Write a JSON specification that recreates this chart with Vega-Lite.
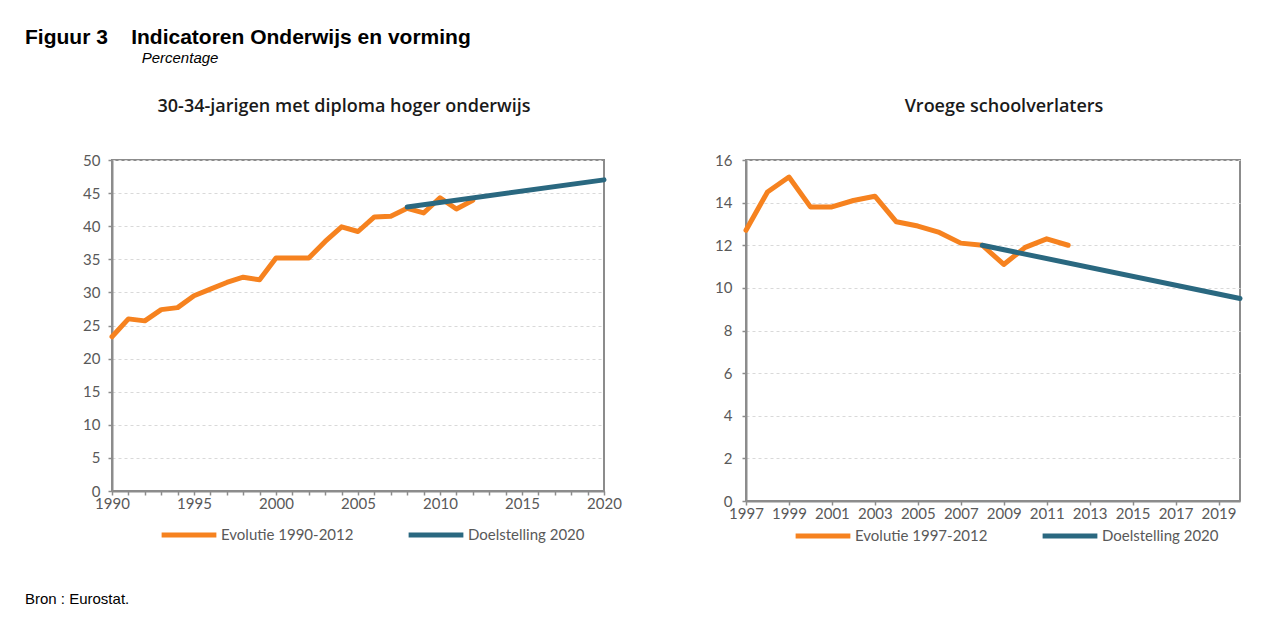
{
  "$schema": "https://vega.github.io/schema/vega-lite/v6.json",
  "padding": {"left": 24, "top": 27, "right": 0, "bottom": 0},
  "background": "white",
  "title": {
    "text": "Figuur 3\u00a0\u00a0\u00a0\u00a0Indicatoren Onderwijs en vorming",
    "subtitle": "\u200b\u00a0\u00a0\u00a0\u00a0\u00a0\u00a0\u00a0\u00a0\u00a0\u00a0\u00a0\u00a0\u00a0\u00a0\u00a0\u00a0\u00a0\u00a0\u00a0\u00a0\u00a0\u00a0\u00a0\u00a0\u00a0\u00a0\u00a0\u00a0Percentage",
    "anchor": "start",
    "frame": "group",
    "dx": -87,
    "font": "Liberation Sans",
    "fontSize": 21,
    "fontWeight": "bold",
    "color": "#000000",
    "subtitleFont": "Liberation Sans",
    "subtitleFontSize": 15,
    "subtitleFontStyle": "italic",
    "subtitleColor": "#000000",
    "subtitlePadding": 3,
    "offset": 31
  },
  "vconcat": [
    {
      "title": {
        "text": "Bron : Eurostat.",
        "orient": "bottom",
        "anchor": "start",
        "frame": "group",
        "dx": -87,
        "font": "Liberation Sans",
        "fontSize": 15,
        "fontWeight": "normal",
        "color": "#000000",
        "offset": 45
      },
      "spacing": 20,
      "resolve": {"scale": {"color": "independent", "x": "independent", "y": "independent"}, "legend": {"color": "independent"}},
      "hconcat": [
        {
          "width": 492,
          "height": 331,
          "title": {"text": "30-34-jarigen met diploma hoger onderwijs", "anchor": "middle", "dx": -14, "offset": 37},
          "data": {"values": [
            {"jaar": 1990, "waarde": 23.3, "reeks": "Evolutie 1990-2012"},
            {"jaar": 1991, "waarde": 26.0, "reeks": "Evolutie 1990-2012"},
            {"jaar": 1992, "waarde": 25.7, "reeks": "Evolutie 1990-2012"},
            {"jaar": 1993, "waarde": 27.4, "reeks": "Evolutie 1990-2012"},
            {"jaar": 1994, "waarde": 27.7, "reeks": "Evolutie 1990-2012"},
            {"jaar": 1995, "waarde": 29.5, "reeks": "Evolutie 1990-2012"},
            {"jaar": 1996, "waarde": 30.5, "reeks": "Evolutie 1990-2012"},
            {"jaar": 1997, "waarde": 31.5, "reeks": "Evolutie 1990-2012"},
            {"jaar": 1998, "waarde": 32.3, "reeks": "Evolutie 1990-2012"},
            {"jaar": 1999, "waarde": 31.9, "reeks": "Evolutie 1990-2012"},
            {"jaar": 2000, "waarde": 35.2, "reeks": "Evolutie 1990-2012"},
            {"jaar": 2001, "waarde": 35.2, "reeks": "Evolutie 1990-2012"},
            {"jaar": 2002, "waarde": 35.2, "reeks": "Evolutie 1990-2012"},
            {"jaar": 2003, "waarde": 37.7, "reeks": "Evolutie 1990-2012"},
            {"jaar": 2004, "waarde": 39.9, "reeks": "Evolutie 1990-2012"},
            {"jaar": 2005, "waarde": 39.2, "reeks": "Evolutie 1990-2012"},
            {"jaar": 2006, "waarde": 41.4, "reeks": "Evolutie 1990-2012"},
            {"jaar": 2007, "waarde": 41.5, "reeks": "Evolutie 1990-2012"},
            {"jaar": 2008, "waarde": 42.7, "reeks": "Evolutie 1990-2012"},
            {"jaar": 2009, "waarde": 42.0, "reeks": "Evolutie 1990-2012"},
            {"jaar": 2010, "waarde": 44.3, "reeks": "Evolutie 1990-2012"},
            {"jaar": 2011, "waarde": 42.6, "reeks": "Evolutie 1990-2012"},
            {"jaar": 2012, "waarde": 43.9, "reeks": "Evolutie 1990-2012"},
            {"jaar": 2008, "waarde": 42.9, "reeks": "Doelstelling 2020"},
            {"jaar": 2020, "waarde": 47.0, "reeks": "Doelstelling 2020"}
          ]},
          "mark": {"type": "line", "strokeWidth": 5, "strokeCap": "round", "strokeJoin": "round"},
          "encoding": {
            "x": {
              "field": "jaar", "type": "quantitative",
              "scale": {"domain": [1990, 2020], "nice": false, "zero": false},
              "axis": {
                "values": [1990,1991,1992,1993,1994,1995,1996,1997,1998,1999,2000,2001,2002,2003,2004,2005,2006,2007,2008,2009,2010,2011,2012,2013,2014,2015,2016,2017,2018,2019,2020],
                "labelExpr": "datum.value % 5 === 0 ? datum.label : ''",
                "format": "d", "grid": false
              }
            },
            "y": {
              "field": "waarde", "type": "quantitative",
              "scale": {"domain": [0, 50], "nice": false},
              "axis": {"values": [0,5,10,15,20,25,30,35,40,45,50], "minExtent": 87, "maxExtent": 87}
            },
            "color": {
              "field": "reeks", "type": "nominal",
              "scale": {"domain": ["Evolutie 1990-2012", "Doelstelling 2020"], "range": ["#F6821F", "#2A6880"]},
              "legend": {"orient": "none", "legendX": 47, "legendY": 345, "direction": "horizontal", "columnPadding": 44}
            }
          }
        },
        {
          "width": 494,
          "height": 341,
          "title": {"text": "Vroege schoolverlaters", "anchor": "middle", "dx": 11, "offset": 37},
          "data": {"values": [
            {"jaar": 1997, "waarde": 12.7, "reeks": "Evolutie 1997-2012"},
            {"jaar": 1998, "waarde": 14.5, "reeks": "Evolutie 1997-2012"},
            {"jaar": 1999, "waarde": 15.2, "reeks": "Evolutie 1997-2012"},
            {"jaar": 2000, "waarde": 13.8, "reeks": "Evolutie 1997-2012"},
            {"jaar": 2001, "waarde": 13.8, "reeks": "Evolutie 1997-2012"},
            {"jaar": 2002, "waarde": 14.1, "reeks": "Evolutie 1997-2012"},
            {"jaar": 2003, "waarde": 14.3, "reeks": "Evolutie 1997-2012"},
            {"jaar": 2004, "waarde": 13.1, "reeks": "Evolutie 1997-2012"},
            {"jaar": 2005, "waarde": 12.9, "reeks": "Evolutie 1997-2012"},
            {"jaar": 2006, "waarde": 12.6, "reeks": "Evolutie 1997-2012"},
            {"jaar": 2007, "waarde": 12.1, "reeks": "Evolutie 1997-2012"},
            {"jaar": 2008, "waarde": 12.0, "reeks": "Evolutie 1997-2012"},
            {"jaar": 2009, "waarde": 11.1, "reeks": "Evolutie 1997-2012"},
            {"jaar": 2010, "waarde": 11.9, "reeks": "Evolutie 1997-2012"},
            {"jaar": 2011, "waarde": 12.3, "reeks": "Evolutie 1997-2012"},
            {"jaar": 2012, "waarde": 12.0, "reeks": "Evolutie 1997-2012"},
            {"jaar": 2008, "waarde": 12.0, "reeks": "Doelstelling 2020"},
            {"jaar": 2020, "waarde": 9.5, "reeks": "Doelstelling 2020"}
          ]},
          "mark": {"type": "line", "strokeWidth": 5, "strokeCap": "round", "strokeJoin": "round"},
          "encoding": {
            "x": {
              "field": "jaar", "type": "quantitative",
              "scale": {"domain": [1997, 2020], "nice": false, "zero": false},
              "axis": {
                "values": [1997,1999,2001,2003,2005,2007,2009,2011,2013,2015,2017,2019],
                "format": "d", "grid": false
              }
            },
            "y": {
              "field": "waarde", "type": "quantitative",
              "scale": {"domain": [0, 16], "nice": false},
              "axis": {"values": [0,2,4,6,8,10,12,14,16], "minExtent": 102, "maxExtent": 102, "labelPadding": 10}
            },
            "color": {
              "field": "reeks", "type": "nominal",
              "scale": {"domain": ["Evolutie 1997-2012", "Doelstelling 2020"], "range": ["#F6821F", "#2A6880"]},
              "legend": {"orient": "none", "legendX": 47, "legendY": 346, "direction": "horizontal", "columnPadding": 44}
            }
          }
        }
      ]
    }
  ],
  "config": {
    "view": {"stroke": "#8C8C8C", "strokeWidth": 2},
    "title": {"font": "Open Sans", "fontSize": 18, "fontWeight": 600, "color": "#1A1A1A"},
    "axis": {
      "title": null,
      "labelFont": "Lato", "labelFontSize": 15, "labelColor": "#595959",
      "domainColor": "#8C8C8C", "domainWidth": 2,
      "tickColor": "#8C8C8C", "tickWidth": 1.5, "tickSize": 4,
      "gridColor": "#D9D9D9", "gridDash": [3, 3], "gridWidth": 1,
      "labelFlush": false, "labelOverlap": false
    },
    "axisY": {"labelPadding": 8},
    "axisX": {"labelPadding": 1},
    "legend": {
      "title": null,
      "symbolType": "stroke", "symbolSize": 3000, "symbolStrokeWidth": 5,
      "labelFont": "Lato", "labelFontSize": 15, "labelColor": "#595959",
      "labelOffset": 2, "symbolOffset": 0, "padding": 0
    }
  }
}
